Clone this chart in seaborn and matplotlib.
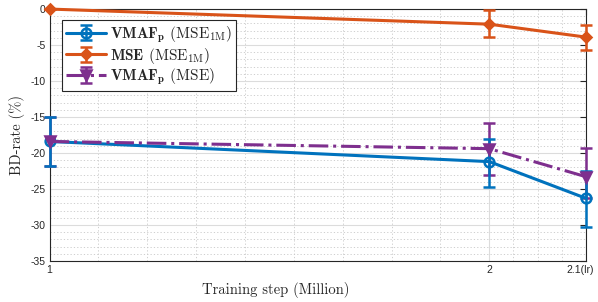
import numpy as np
import pandas as pd
import matplotlib
matplotlib.use("Agg")
import matplotlib.pyplot as plt
import matplotlib.transforms as mtransforms
import seaborn as sns
from matplotlib.legend_handler import HandlerTuple

# --- datos ---
steps = [1, 2, 2.22]
step_labels = ["1", "2", "2.1(lr)"]

vmaf_1m = [-18.4, -21.2, -26.3]
vmaf_1m_lo = [3.4, 3.5, 4.0]
vmaf_1m_hi = [3.4, 3.2, 3.8]

mse_1m = [0.0, -2.1, -3.9]
mse_1m_lo = [0.0, 1.8, 1.8]
mse_1m_hi = [0.0, 1.9, 1.7]

vmaf_mse = [-18.4, -19.4, -23.3]
vmaf_mse_lo = [3.4, 3.6, 3.0]
vmaf_mse_hi = [3.4, 3.5, 4.0]

series = [
    (r"$\mathbf{VMAF_p}$ (MSE$_{\mathrm{1M}}$)", vmaf_1m, vmaf_1m_lo, vmaf_1m_hi, "#0072BD", "o", "-", 3.6),
    (r"$\mathbf{MSE}$ (MSE$_{\mathrm{1M}}$)", mse_1m, mse_1m_lo, mse_1m_hi, "#D95319", "D", "-", 3.4),
    (r"$\mathbf{VMAF_p}$ (MSE)", vmaf_mse, vmaf_mse_lo, vmaf_mse_hi, "#7E2F8E", "v", "-.", 3.2),
]

sns.set_style("white")
plt.rcParams["mathtext.fontset"] = "cm"
plt.rcParams["axes.unicode_minus"] = False
plt.rcParams["font.family"] = ["Liberation Sans", "DejaVu Sans"]

fig = plt.figure(figsize=(5.98, 3.02), dpi=100)
ax = fig.add_axes([0.083, 0.136, 0.897, 0.834])

handles = []
labels = []
for name, vals, lo, hi, col, mk, ls, zo in series:
    df = pd.DataFrame({"step": steps, "bd": vals})
    err = ax.errorbar(steps, vals, yerr=[lo, hi], fmt="none", ecolor=col,
                      elinewidth=1.8, capsize=4, capthick=1.8, zorder=zo)
    for art in err.lines[1] + err.lines[2]:
        art.set_clip_on(False)
    sns.lineplot(data=df, x="step", y="bd", ax=ax, color=col, linestyle=ls,
                 linewidth=2.2, marker=mk, markersize=7 if mk != "D" else 5.5,
                 markerfacecolor="none" if mk == "o" else col,
                 markeredgecolor=col, markeredgewidth=1.8, legend=False,
                 zorder=4, clip_on=False)
    line = ax.lines[-1]
    handles.append((err, line))
    labels.append(name)

ax.set_xlim(1, 2.22)
ax.set_ylim(-35, 0)
ax.set_xticks(steps)
ax.set_xticklabels(step_labels)
ax.set_yticks(np.arange(-35, 1, 5))
ax.set_xticks(list(np.linspace(1, 2, 10)) + list(np.linspace(2, 2.22, 5)), minor=True)
ax.set_yticks(np.arange(-35, 1, 1), minor=True)

ax.grid(which="major", color="#dcdcdc", linewidth=0.8, linestyle="-")
ax.grid(which="minor", color="#c8c8c8", linewidth=0.6, linestyle=(0, (1.5, 2.5)))
ax.set_axisbelow(True)

ax.tick_params(which="major", direction="in", length=4, width=0.8,
               top=True, right=True, labelsize=7.5, colors="#262626", pad=3)
ax.tick_params(which="minor", length=0)
for s in ax.spines.values():
    s.set_color("#262626")
    s.set_linewidth(0.8)

# mover la ultima etiqueta para que no se corte
last = ax.get_xticklabels()[-1]
last.set_transform(last.get_transform() + mtransforms.ScaledTranslation(-6 / 100, 0, fig.dpi_scale_trans))

ax.set_xlabel("Training step (Million)", family="cmr10", fontsize=10.5)
ax.xaxis.set_label_coords(0.422, -0.085)
ax.set_ylabel("BD-rate (%)", family="cmr10", fontsize=10.5, labelpad=4)

leg = ax.legend(handles, labels, handler_map={tuple: HandlerTuple(ndivide=1)},
                loc="upper left", bbox_to_anchor=(0.023, 0.955), borderaxespad=0,
                prop={"family": "cmr10", "size": 11}, frameon=True, fancybox=False,
                edgecolor="#262626", framealpha=1, handlelength=2.6,
                labelspacing=0.05, borderpad=0.25, handletextpad=0.3)
leg.get_frame().set_linewidth(0.8)

fig.savefig("out.png", dpi=100)
